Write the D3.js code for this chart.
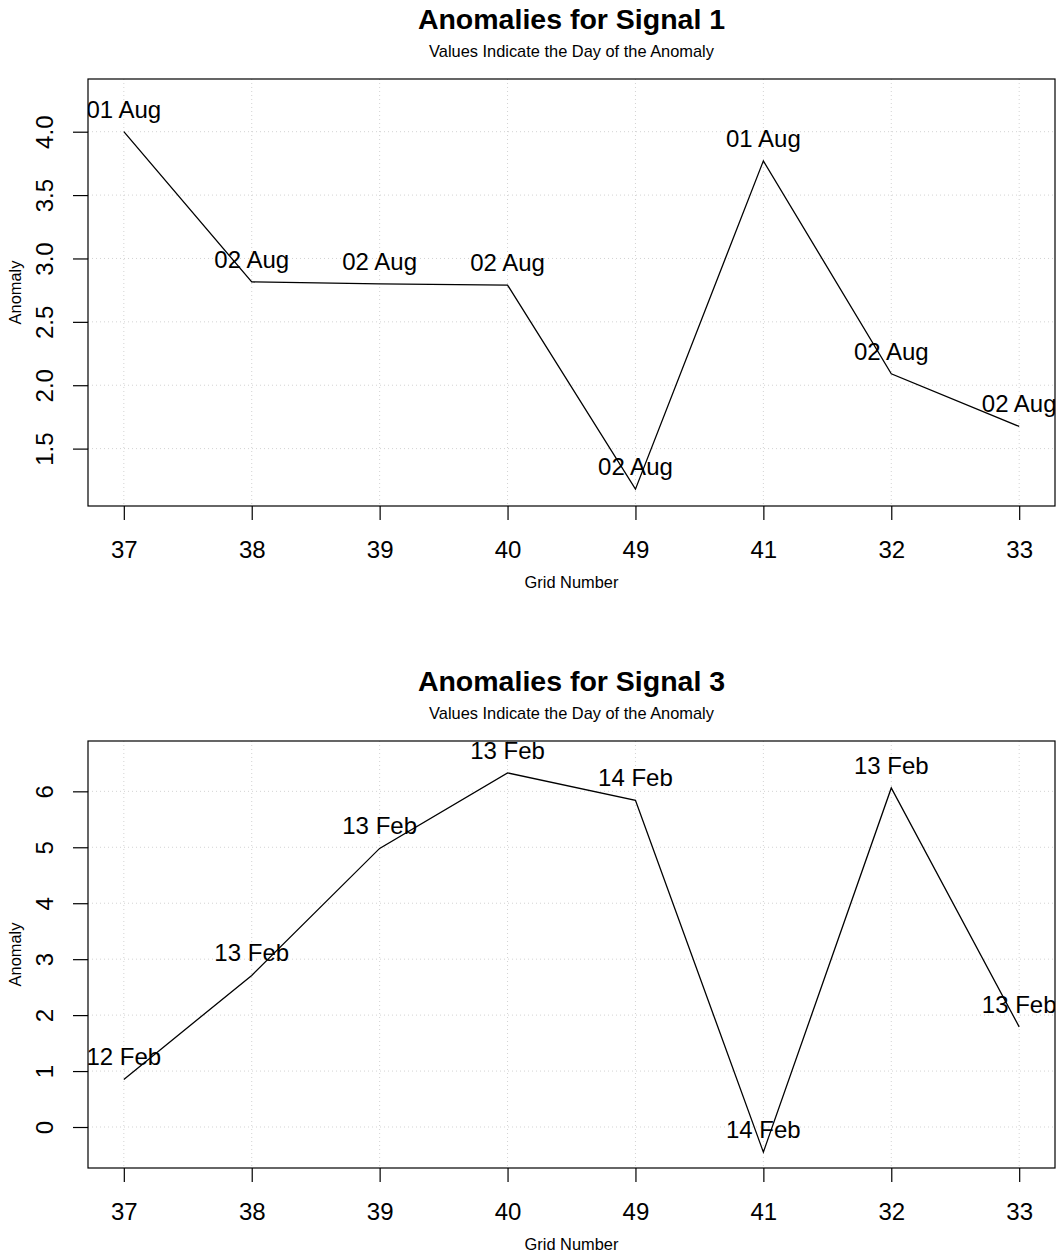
<!DOCTYPE html>
<html>
<head>
<meta charset="utf-8">
<script src="https://cdn.jsdelivr.net/npm/d3@7"></script>
<style>
  html, body { margin: 0; padding: 0; background: #fff; }
  svg { display: block; font-family: "Liberation Sans", Arial, Helvetica, sans-serif; }
</style>
</head>
<body>
<svg id="chart" width="1059" height="1257"></svg>
<script>
// Grid numbers along the x axis (shared by both panels)
const gridNumbers = ["37", "38", "39", "40", "49", "41", "32", "33"];

// Signal 1
const signal1Values = [4.0, 2.815, 2.80, 2.79, 1.18, 3.77, 2.09, 1.675];
const signal1Days = ["01 Aug", "02 Aug", "02 Aug", "02 Aug", "02 Aug", "01 Aug", "02 Aug", "02 Aug"];
const signal1Ticks = [1.5, 2.0, 2.5, 3.0, 3.5, 4.0];
const signal1Limits = [1.172, 4.291];

// Signal 3
const signal3Values = [0.85, 2.71, 4.98, 6.33, 5.84, -0.45, 6.06, 1.79];
const signal3Days = ["12 Feb", "13 Feb", "13 Feb", "13 Feb", "14 Feb", "14 Feb", "13 Feb", "13 Feb"];
const signal3Ticks = [0, 1, 2, 3, 4, 5, 6];
const signal3Limits = [-0.45, 6.617];

const panels = [
  { title: "Anomalies for Signal 1", values: signal1Values, days: signal1Days,
    ticks: signal1Ticks, limits: signal1Limits, fmt: d3.format(".1f"), top: 0 },
  { title: "Anomalies for Signal 3", values: signal3Values, days: signal3Days,
    ticks: signal3Ticks, limits: signal3Limits, fmt: d3.format("d"), top: 662 }
];

const svg = d3.select("#chart");
const plot = { left: 88, right: 1055, top: 79, bottom: 506 };
const bigFont = 24;
const smallFont = 16.4;

// R-style 4% axis extension
function pad(lo, hi) { const r = hi - lo; return [lo - 0.04 * r, hi + 0.04 * r]; }

panels.forEach((p, pi) => {
  const g = svg.append("g").attr("transform", `translate(0,${p.top})`);

  const x = d3.scaleLinear()
    .domain(pad(1, gridNumbers.length))
    .range([plot.left, plot.right]);
  const y = d3.scaleLinear()
    .domain(pad(p.limits[0], p.limits[1]))
    .range([plot.bottom, plot.top]);

  const idx = d3.range(1, gridNumbers.length + 1);

  // dotted grid
  g.append("g").selectAll("line.v").data(idx).join("line")
    .attr("x1", d => x(d)).attr("x2", d => x(d))
    .attr("y1", plot.top).attr("y2", plot.bottom)
    .attr("stroke", "#d3d3d3").attr("stroke-width", 1).attr("stroke-dasharray", "1,3");
  g.append("g").selectAll("line.h").data(p.ticks).join("line")
    .attr("x1", plot.left).attr("x2", plot.right)
    .attr("y1", d => y(d)).attr("y2", d => y(d))
    .attr("stroke", "#d3d3d3").attr("stroke-width", 1).attr("stroke-dasharray", "1,3");

  // clip region for the data layer
  const clipId = "clip" + pi;
  g.append("clipPath").attr("id", clipId).append("rect")
    .attr("x", plot.left).attr("y", plot.top)
    .attr("width", plot.right - plot.left).attr("height", plot.bottom - plot.top);

  const data = p.values.map((v, i) => ({ i: i + 1, v: v, day: p.days[i] }));
  const layer = g.append("g").attr("clip-path", `url(#${clipId})`);

  layer.append("path").datum(data)
    .attr("fill", "none").attr("stroke", "#000").attr("stroke-width", 1.3)
    .attr("d", d3.line().x(d => x(d.i)).y(d => y(d.v)));

  layer.selectAll("text.day").data(data).join("text")
    .attr("x", d => x(d.i)).attr("y", d => y(d.v) - 14)
    .attr("text-anchor", "middle").attr("font-size", bigFont).attr("fill", "#000")
    .text(d => d.day);

  // frame
  g.append("rect")
    .attr("x", plot.left).attr("y", plot.top)
    .attr("width", plot.right - plot.left).attr("height", plot.bottom - plot.top)
    .attr("fill", "none").attr("stroke", "#000").attr("stroke-width", 1.2);

  // x axis
  const xAxis = d3.axisBottom(x).tickValues(idx)
    .tickFormat(d => gridNumbers[d - 1]).tickSize(14).tickPadding(0);
  const xg = g.append("g").attr("transform", `translate(0,${plot.bottom})`).call(xAxis);
  xg.select(".domain").remove();
  xg.selectAll(".tick line").attr("stroke", "#000").attr("stroke-width", 1.2);
  xg.selectAll(".tick text").attr("font-size", bigFont).attr("fill", "#000")
    .attr("font-family", "Liberation Sans, Arial, sans-serif")
    .attr("dy", null).attr("y", 52);

  // y axis with rotated labels
  const yAxis = d3.axisLeft(y).tickValues(p.ticks).tickFormat(p.fmt).tickSize(15);
  const yg = g.append("g").attr("transform", `translate(${plot.left},0)`).call(yAxis);
  yg.select(".domain").remove();
  yg.selectAll(".tick line").attr("stroke", "#000").attr("stroke-width", 1.2);
  yg.selectAll(".tick text")
    .attr("font-size", bigFont).attr("fill", "#000")
    .attr("font-family", "Liberation Sans, Arial, sans-serif")
    .attr("x", null).attr("dy", null)
    .attr("text-anchor", "middle")
    .attr("transform", `translate(${53 - plot.left},0) rotate(-90)`);

  // titles
  const cx = (plot.left + plot.right) / 2;
  g.append("text").attr("x", cx).attr("y", 29).attr("text-anchor", "middle")
    .attr("font-size", 28.5).attr("font-weight", "bold").text(p.title);
  g.append("text").attr("x", cx).attr("y", 57).attr("text-anchor", "middle")
    .attr("font-size", smallFont).text("Values Indicate the Day of the Anomaly");

  // axis titles
  g.append("text").attr("x", cx).attr("y", 588).attr("text-anchor", "middle")
    .attr("font-size", smallFont).text("Grid Number");
  g.append("text")
    .attr("transform", `translate(21,${(plot.top + plot.bottom) / 2}) rotate(-90)`)
    .attr("text-anchor", "middle").attr("font-size", smallFont).text("Anomaly");
});
</script>
</body>
</html>
